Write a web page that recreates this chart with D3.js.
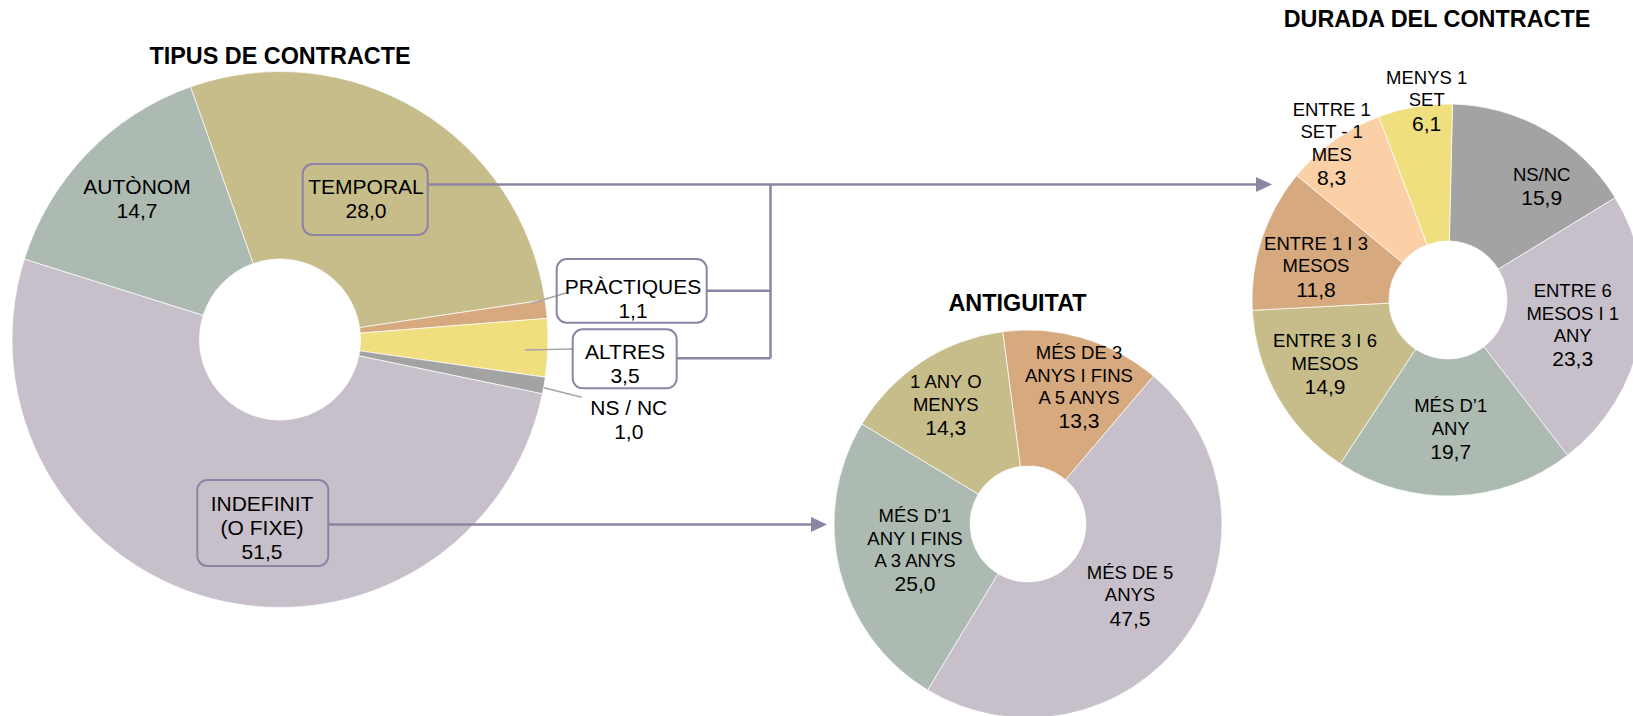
<!DOCTYPE html>
<html>
<head>
<meta charset="utf-8">
<script src="https://cdn.jsdelivr.net/npm/d3@7"></script>
<style>
  body { margin: 0; background: #fff; }
  text { font-family: "Liberation Sans", Arial, sans-serif; fill: #000; }
</style>
</head>
<body>
<svg id="chart" width="1633" height="716"></svg>
<script>
// data: left pie (clockwise from the first slice)
const contractCats = ['TEMPORAL', 'PRÀCTIQUES', 'ALTRES', 'NS / NC', 'INDEFINIT\n(O FIXE)', 'AUTÒNOM']
const contractVals = [28.0, 1.1, 3.5, 1.0, 51.5, 14.7]
// middle pie
const seniorityCats = ['MÉS DE 3\nANYS I FINS\nA 5 ANYS', 'MÉS DE 5\nANYS', 'MÉS D’1\nANY I FINS\nA 3 ANYS', '1 ANY O\nMENYS']
const seniorityVals = [13.3, 47.5, 25.0, 14.3]
// right pie
const durationCats = ['NS/NC', 'ENTRE 6\nMESOS I 1\nANY', 'MÉS D’1\nANY', 'ENTRE 3 I 6\nMESOS', 'ENTRE 1 I 3\nMESOS', 'ENTRE 1\nSET - 1\nMES', 'MENYS 1\nSET']
const durationVals = [15.9, 23.3, 19.7, 14.9, 11.8, 8.3, 6.1]

const col = {
  olive: '#c7bd8a', sage: '#adbab2', lilac: '#c7c0cb', tan: '#d6a97f',
  yellow: '#efdf7f', grey: '#a3a3a3', peach: '#fbd0a6'
}
const contractColors = [col.olive, col.tan, col.yellow, col.grey, col.lilac, col.sage]
const seniorityColors = [col.tan, col.lilac, col.sage, col.olive]
const durationColors = [col.grey, col.lilac, col.sage, col.olive, col.tan, col.peach, col.yellow]

const svg = d3.select('#chart')
const fmt = v => d3.format('.1f')(v).replace('.', ',')
const rad = d => d * Math.PI / 180
const lineCol = '#8d84a4'

function donut(cfg) {
  const pie = d3.pie().sort(null)
    .startAngle(rad(cfg.start))
    .endAngle(rad(cfg.start) + 2 * Math.PI)
  const arc = d3.arc().innerRadius(cfg.inner).outerRadius(cfg.outer)
  const g = svg.append('g').attr('transform', `translate(${cfg.cx},${cfg.cy})`)
  g.selectAll('path')
    .data(pie(cfg.vals))
    .join('path')
    .attr('d', arc)
    .attr('fill', (d, i) => cfg.colors[i])
    .attr('stroke', '#fff')
    .attr('stroke-width', 0.7)
}

function label(x, y, name, value, s) {
  const lines = name.split('\n')
  const t = svg.append('text').attr('text-anchor', 'middle')
  lines.forEach((l, i) => {
    t.append('tspan').attr('x', x).attr('y', y + i * s.gap)
      .style('font-size', s.name + 'px').text(l)
  })
  t.append('tspan').attr('x', x).attr('y', y + (lines.length - 1) * s.gap + s.vgap)
    .style('font-size', s.val + 'px').text(fmt(value))
}

// --- TIPUS DE CONTRACTE ---
donut({ cx: 280, cy: 339.5, outer: 268, inner: 80.5, start: -19.5, vals: contractVals, colors: contractColors })

// leader lines for the small slices
const leaders = [[531.7, 303.3, 566.7, 292.7], [525, 350, 572.7, 349], [544, 387.7, 581.7, 397.3]]
leaders.forEach(l => svg.append('line')
  .attr('x1', l[0]).attr('y1', l[1]).attr('x2', l[2]).attr('y2', l[3])
  .attr('stroke', '#a6a6a6').attr('stroke-width', 1.5))

// connectors and arrows
const conn = [
  [427.7, 184.5, 1257, 184.5], [770.5, 184.5, 770.5, 358.3],
  [706.7, 290.7, 770.5, 290.7], [676.7, 358.3, 770.5, 358.3],
  [328.3, 524.5, 811, 524.5]
]
conn.forEach(l => svg.append('line')
  .attr('x1', l[0]).attr('y1', l[1]).attr('x2', l[2]).attr('y2', l[3])
  .attr('stroke', lineCol).attr('stroke-width', 2.5))
const heads = [[1272, 184.5], [827, 524.5]]
heads.forEach(h => svg.append('path')
  .attr('d', `M${h[0]},${h[1]} L${h[0] - 16},${h[1] - 7.5} L${h[0] - 16},${h[1] + 7.5} Z`)
  .attr('fill', lineCol))

// boxes
const boxes = [[302.7, 164, 125, 71], [556.7, 259, 150, 63.7], [572.7, 329.3, 104, 59], [197.3, 480, 131, 86]]
boxes.forEach(b => svg.append('rect')
  .attr('x', b[0]).attr('y', b[1]).attr('width', b[2]).attr('height', b[3])
  .attr('rx', 10).attr('fill', 'none')
  .attr('stroke', lineCol).attr('stroke-width', 2))

const big = { name: 21, val: 21, gap: 24, vgap: 24 }
const contractPos = [[366, 194], [633, 294], [625, 359], [628.8, 415], [262, 510.7], [137, 194.3]]
contractCats.forEach((c, i) => label(contractPos[i][0], contractPos[i][1], c, contractVals[i], big))

// --- ANTIGUITAT ---
donut({ cx: 1028, cy: 524, outer: 194, inner: 58, start: -7.5, vals: seniorityVals, colors: seniorityColors })
const small = { name: 18.5, val: 21, gap: 22.3, vgap: 24.5 }
const seniorityPos = [[1079, 359.3], [1130, 579], [915, 522.3], [945.8, 388.3]]
seniorityCats.forEach((c, i) => label(seniorityPos[i][0], seniorityPos[i][1], c, seniorityVals[i], small))

// --- DURADA DEL CONTRACTE ---
donut({ cx: 1448, cy: 300, outer: 196, inner: 59, start: 1.3, vals: durationVals, colors: durationColors })
const durationPos = [[1541.7, 180.7], [1572.7, 297.3], [1450.7, 412.3], [1325, 347.3], [1316, 250], [1331.7, 116], [1426.7, 84]]
durationCats.forEach((c, i) => label(durationPos[i][0], durationPos[i][1], c, durationVals[i], small))

// titles
const titles = [['TIPUS DE CONTRACTE', 280, 64], ['ANTIGUITAT', 1017.5, 310.7], ['DURADA DEL CONTRACTE', 1437, 26.7]]
titles.forEach(t => svg.append('text')
  .attr('x', t[1]).attr('y', t[2]).attr('text-anchor', 'middle')
  .style('font-size', '23.4px').style('font-weight', 'bold').text(t[0]))
</script>
</body>
</html>
